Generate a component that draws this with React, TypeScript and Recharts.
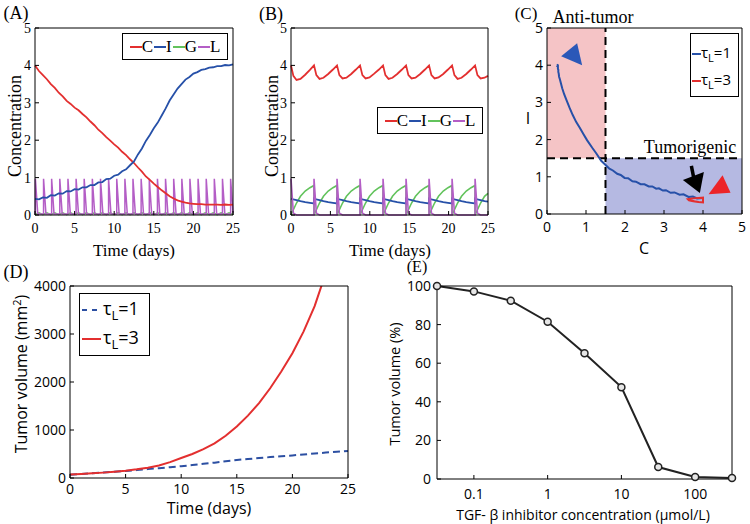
import React from 'react';
import { LineChart, Line, XAxis, YAxis, ReferenceArea, ReferenceLine, ReferenceDot } from 'recharts';

const SERIF = '"Liberation Serif", "Times New Roman", serif';
const SANS = '"Open Sans", "Noto Sans", sans-serif';

const RED = '#e32f2f';
const BLUE = '#2650a8';
const GREEN = '#62c35c';
const PURPLE = '#b45ec6';

// ---------- Panel A (tau_L = 1) ----------
const tA = [0,0.5,1,1.5,2,2.5,3,3.5,4,4.5,5,5.5,6,6.5,7,7.5,8,8.5,9,9.5,10,10.5,11,11.5,12,12.5,13,13.5,14,14.5,15,15.5,16,16.5,17,17.5,18,18.5,19,19.5,20,20.5,21,21.5,22,22.5,23,23.5,24,24.5,25];
const cA = [4.00,3.85,3.74,3.63,3.50,3.40,3.27,3.17,3.05,2.97,2.87,2.80,2.70,2.61,2.50,2.40,2.28,2.19,2.08,1.99,1.89,1.80,1.69,1.60,1.49,1.39,1.27,1.16,1.03,0.94,0.84,0.75,0.66,0.58,0.50,0.44,0.39,0.36,0.33,0.31,0.30,0.29,0.29,0.28,0.28,0.28,0.28,0.27,0.28,0.27,0.28];
const iA = [0.43,0.42,0.47,0.46,0.53,0.52,0.58,0.57,0.64,0.63,0.69,0.68,0.74,0.74,0.80,0.80,0.87,0.88,0.96,0.97,1.05,1.08,1.17,1.22,1.33,1.43,1.62,1.78,1.98,2.14,2.32,2.47,2.66,2.85,3.06,3.22,3.38,3.50,3.62,3.69,3.78,3.82,3.88,3.90,3.94,3.95,3.98,3.98,4.01,4.00,4.03];
const gA = [0.01,0.06,0.01,0.06,0.01,0.06,0.01,0.06,0.01,0.06,0.01,0.06,0.01,0.06,0.01,0.06,0.01,0.06,0.01,0.06,0.01,0.06,0.01,0.06,0.01,0.06,0.01,0.06,0.01,0.06,0.01,0.06,0.01,0.06,0.01,0.06,0.01,0.06,0.01,0.06,0.01,0.06,0.01,0.06,0.01,0.06,0.01,0.06,0.01,0.06,0.01];
const lAt = [0.05,0.05,0.35, 1.08,1.08,1.38, 2.1,2.1,2.4, 3.13,3.13,3.43, 4.16,4.16,4.46, 5.19,5.19,5.49, 6.21,6.21,6.51, 7.24,7.24,7.54, 8.27,8.27,8.57, 9.29,9.29,9.59, 10.32,10.32,10.62, 11.35,11.35,11.65, 12.37,12.37,12.67, 13.4,13.4,13.7, 14.43,14.43,14.73, 15.46,15.46,15.76, 16.48,16.48,16.78, 17.51,17.51,17.81, 18.54,18.54,18.84, 19.56,19.56,19.86, 20.59,20.59,20.89, 21.62,21.62,21.92, 22.64,22.64,22.94, 23.67,23.67,23.97, 24.7,24.7,25];
const lAv = [0.03,0.97,0.03, 0.03,0.97,0.03, 0.03,0.97,0.03, 0.03,0.97,0.03, 0.03,0.97,0.03, 0.03,0.97,0.03, 0.03,0.97,0.03, 0.03,0.97,0.03, 0.03,0.97,0.03, 0.03,0.97,0.03, 0.03,0.97,0.03, 0.03,0.97,0.03, 0.03,0.97,0.03, 0.03,0.97,0.03, 0.03,0.97,0.03, 0.03,0.97,0.03, 0.03,0.97,0.03, 0.03,0.97,0.03, 0.03,0.97,0.03, 0.03,0.97,0.03, 0.03,0.97,0.03, 0.03,0.97,0.03, 0.03,0.97,0.03, 0.03,0.97,0.03, 0.03,0.97,0.06];

// ---------- Panel B (tau_L = 3) ----------
const tB = [0,0.3,0.7,1.2,1.8,2.4,
  2.92,2.92,3.22,3.62,4.12,4.72,5.32,
  5.84,5.84,6.14,6.54,7.04,7.64,8.24,
  8.76,8.76,9.06,9.46,9.96,10.56,11.16,
  11.68,11.68,11.98,12.38,12.88,13.48,14.08,
  14.6,14.6,14.9,15.3,15.8,16.4,17.0,
  17.52,17.52,17.82,18.22,18.72,19.32,19.92,
  20.44,20.44,20.74,21.14,21.64,22.24,22.84,
  23.36,23.36,23.66,24.06,24.56,25];
const cB = [4.00,3.72,3.61,3.64,3.75,3.88,
  4.00,4.00,3.74,3.64,3.67,3.77,3.89,
  4.00,4.00,3.74,3.65,3.67,3.77,3.89,
  4.00,4.00,3.74,3.65,3.68,3.78,3.89,
  4.00,4.00,3.74,3.64,3.67,3.77,3.89,
  4.00,4.00,3.74,3.65,3.67,3.77,3.89,
  4.00,4.00,3.74,3.65,3.68,3.77,3.89,
  4.00,4.00,3.74,3.64,3.67,3.77,3.89,
  4.00,4.00,3.74,3.65,3.67,3.72];
const iB = [0.44,0.42,0.40,0.37,0.345,0.325,
  0.31,0.44,0.42,0.40,0.37,0.345,0.325,
  0.31,0.44,0.42,0.40,0.37,0.345,0.325,
  0.31,0.44,0.42,0.40,0.37,0.345,0.325,
  0.31,0.44,0.42,0.40,0.37,0.345,0.325,
  0.31,0.44,0.42,0.40,0.37,0.345,0.325,
  0.31,0.44,0.42,0.40,0.37,0.345,0.325,
  0.31,0.44,0.42,0.40,0.37,0.345,0.325,
  0.31,0.44,0.42,0.40,0.37,0.355];
const gB = [0.00,0.14,0.32,0.50,0.64,0.73,
  0.79,0.00,0.14,0.32,0.50,0.64,0.73,
  0.79,0.00,0.14,0.32,0.50,0.64,0.73,
  0.79,0.00,0.14,0.32,0.50,0.64,0.73,
  0.79,0.00,0.14,0.32,0.50,0.64,0.73,
  0.79,0.00,0.14,0.32,0.50,0.64,0.73,
  0.79,0.00,0.14,0.32,0.50,0.64,0.73,
  0.79,0.00,0.14,0.32,0.50,0.64,0.73,
  0.79,0.00,0.14,0.32,0.50,0.58];
const lB = [0.97,0.05,0,0,0,0,
  0,0.97,0.05,0,0,0,0,
  0,0.97,0.05,0,0,0,0,
  0,0.97,0.05,0,0,0,0,
  0,0.97,0.05,0,0,0,0,
  0,0.97,0.05,0,0,0,0,
  0,0.97,0.05,0,0,0,0,
  0,0.97,0.05,0,0,0,0,
  0,0.97,0.05,0,0,0];

// ---------- Panel D ----------
const tD = [0,1,2,3,4,5,6,7,8,9,10,11,12,13,14,15,16,17,18,19,20,21,22,23,24,25];
const vD1 = [70,85,100,115,130,145,165,185,205,225,245,270,295,320,350,375,395,415,435,455,470,490,510,530,548,565];
const tD3 = [0,1,2,3,4,5,6,7,8,9,10,11,12,13,14,15,16,17,18,19,20,21,22,23];
const vD3 = [75,85,97,112,130,152,180,215,260,330,416,500,600,720,880,1075,1300,1560,1870,2220,2600,3050,3580,4270];

// ---------- Panel E ----------
const eConc = [0.0316,0.1,0.316,1,3.16,10,31.6,100,316];
const eVol = [100,97.2,92.4,81.5,65.2,47.6,6.2,1.0,0.5];

const ticks025 = [0,5,10,15,20,25];
const ticks05 = [0,1,2,3,4,5];

const zip = (xs: number[], ys: number[]) => xs.map((x, i) => ({ x, y: ys[i] }));

function boxAxes(o: any) {
  const tickStyle = { fill: '#000', fontSize: o.fontSize, fontFamily: o.font };
  const ax = { stroke: '#000', strokeWidth: 1 };
  return [
    <XAxis key="xb" dataKey="x" type="number" scale={o.xScale || 'auto'} domain={o.xDomain} ticks={o.xTicks} interval={0}
      allowDataOverflow={!!o.xOverflow} tickSize={-4} tickMargin={o.xTickMargin} axisLine={ax} tickLine={ax}
      tick={tickStyle} height={o.xHeight} tickFormatter={o.xFmt} />,
    <XAxis key="xt" xAxisId="top" dataKey="x" orientation="top" type="number" scale={o.xScale || 'auto'} domain={o.xDomain} ticks={o.xTicks}
      interval={0} allowDataOverflow tickSize={-4} axisLine={ax} tickLine={ax} tick={false} height={1} />,
    <YAxis key="yl" type="number" domain={o.yDomain} ticks={o.yTicks} interval={0} allowDataOverflow={!!o.yOverflow}
      tickSize={-4} tickMargin={o.yTickMargin} axisLine={ax} tickLine={ax} tick={tickStyle} width={o.yWidth} />,
    <YAxis key="yr" yAxisId="right" orientation="right" type="number" domain={o.yDomain} ticks={o.yTicks} interval={0}
      allowDataOverflow tickSize={-4} axisLine={ax} tickLine={ax} tick={false} width={1} />,
    <Line key="ghost" xAxisId="top" yAxisId="right" data={zip(o.xDomain, o.yDomain)} dataKey="y" stroke="none"
      dot={false} activeDot={false} isAnimationActive={false} />,
  ];
}

const Txt = ({ x, y, size, font, rotate, children, style }: any) => (
  <div style={{ position: 'absolute', left: x, top: y, transform: `translate(-50%,-50%)${rotate ? ' rotate(-90deg)' : ''}`,
    whiteSpace: 'nowrap', fontFamily: font, fontSize: size, lineHeight: 1, color: '#000', ...style }}>{children}</div>
);

const Seg = ({ color, w = 12, dash }: any) => (
  <svg width={w} height={10} style={{ display: 'block' }}>
    <line x1={0} y1={5} x2={w} y2={5} stroke={color} strokeWidth={2} strokeDasharray={dash} />
  </svg>
);

const LegendCIGL = ({ left, top }: any) => (
  <div style={{ position: 'absolute', left, top, width: 104, height: 25, border: '1px solid #000', background: '#fff',
    display: 'flex', alignItems: 'center', justifyContent: 'center', fontFamily: SERIF, fontSize: 17 }}>
    <Seg color={RED} /><span style={{ marginRight: 1 }}>C</span>
    <Seg color={BLUE} /><span style={{ marginRight: 1 }}>I</span>
    <Seg color={GREEN} /><span style={{ marginRight: 1 }}>G</span>
    <Seg color={PURPLE} /><span>L</span>
  </div>
);

const BlueTri = (p: any) => (
  <polygon points={`${p.cx - 12},${p.cy + 1} ${p.cx + 4},${p.cy - 12} ${p.cx + 9},${p.cy + 10}`} fill="#2b58b8" />
);
const RedTri = (p: any) => (
  <polygon points={`${p.cx - 12},${p.cy + 7} ${p.cx + 10},${p.cy + 5.5} ${p.cx + 2},${p.cy - 12}`} fill="#ec2428" />
);
const Arrow = (p: any) => (
  <g>
    <line x1={p.cx - 1.5} y1={p.cy - 12} x2={p.cx + 1.5} y2={p.cy + 3} stroke="#000" strokeWidth={3.5} />
    <polygon points={`${p.cx - 10},${p.cy + 2} ${p.cx + 11},${p.cy - 6} ${p.cx + 7},${p.cy + 15}`} fill="#000" />
  </g>
);

export default function App() {
  return (
    <div style={{ position: 'absolute', left: 0, top: 0, width: 750, height: 524, background: '#fff', overflow: 'hidden' }}>
      {/* Panel A */}
      <div style={{ position: 'absolute', left: 0, top: 0 }}>
        <LineChart width={245} height={262} margin={{ top: 27, right: 11, bottom: 22, left: 10 }}>
          {boxAxes({ xDomain: [0, 25], xTicks: ticks025, yDomain: [0, 5], yTicks: ticks05, font: SERIF, fontSize: 14,
            xTickMargin: 12, yTickMargin: 8, xHeight: 25, yWidth: 25 })}
          <Line data={zip(tA, gA)} dataKey="y" stroke={GREEN} strokeWidth={1.5} dot={false} isAnimationActive={false} />
          <Line data={zip(lAt, lAv)} dataKey="y" stroke={PURPLE} strokeWidth={1.5} dot={false} isAnimationActive={false} />
          <Line data={zip(tA, cA)} dataKey="y" stroke={RED} strokeWidth={1.8} dot={false} isAnimationActive={false} />
          <Line data={zip(tA, iA)} dataKey="y" stroke={BLUE} strokeWidth={1.8} dot={false} isAnimationActive={false} />
        </LineChart>
      </div>
      {/* Panel B */}
      <div style={{ position: 'absolute', left: 245, top: 0 }}>
        <LineChart width={255} height={262} margin={{ top: 27, right: 11, bottom: 22, left: 21 }}>
          {boxAxes({ xDomain: [0, 25], xTicks: ticks025, yDomain: [0, 5], yTicks: ticks05, font: SERIF, fontSize: 14,
            xTickMargin: 12, yTickMargin: 8, xHeight: 25, yWidth: 25 })}
          <Line data={zip(tB, gB)} dataKey="y" stroke={GREEN} strokeWidth={1.6} dot={false} isAnimationActive={false} />
          <Line data={zip(tB, iB)} dataKey="y" stroke={BLUE} strokeWidth={1.8} dot={false} isAnimationActive={false} />
          <Line data={zip(tB, lB)} dataKey="y" stroke={PURPLE} strokeWidth={1.6} dot={false} isAnimationActive={false} />
          <Line data={zip(tB, cB)} dataKey="y" stroke={RED} strokeWidth={1.8} dot={false} isAnimationActive={false} />
        </LineChart>
      </div>
      {/* Panel C */}
      <div style={{ position: 'absolute', left: 500, top: 0 }}>
        <LineChart width={250} height={262} margin={{ top: 27, right: 7, bottom: 23, left: 22 }}>
          <ReferenceArea x1={0} x2={1.5} y1={1.5} y2={5} fill="#f5c4c6" fillOpacity={1} stroke="none" />
          <ReferenceArea x1={1.5} x2={5} y1={0} y2={1.5} fill="#b5b9e2" fillOpacity={1} stroke="none" />
          {boxAxes({ xDomain: [0, 5], xTicks: ticks05, yDomain: [0, 5], yTicks: ticks05, font: SANS, fontSize: 14,
            xTickMargin: 12, yTickMargin: 8, xHeight: 25, yWidth: 25 })}
          <ReferenceLine x={1.5} stroke="#000" strokeWidth={2} strokeDasharray="8 5" />
          <ReferenceLine y={1.5} stroke="#000" strokeWidth={2} strokeDasharray="8 5" />
          <Line data={zip(cA, iA)} dataKey="y" stroke={BLUE} strokeWidth={2} dot={false} isAnimationActive={false} />
          <Line data={zip(cB, iB)} dataKey="y" stroke={RED} strokeWidth={2} dot={false} isAnimationActive={false} />
          <ReferenceDot x={0.67} y={4.27} r={1} shape={BlueTri} />
          <ReferenceDot x={4.45} y={0.72} r={1} shape={RedTri} />
          <ReferenceDot x={3.74} y={0.97} r={1} shape={Arrow} />
        </LineChart>
      </div>
      {/* Panel D */}
      <div style={{ position: 'absolute', left: 0, top: 262 }}>
        <LineChart width={360} height={262} margin={{ top: 23, right: 11, bottom: 16, left: 25 }}>
          {boxAxes({ xDomain: [0, 25], xTicks: ticks025, yDomain: [0, 4000], yTicks: [0, 1000, 2000, 3000, 4000], font: SANS, fontSize: 14,
            xTickMargin: 10, yTickMargin: 8, xHeight: 30, yWidth: 45, yOverflow: true })}
          <Line data={zip(tD, vD1)} dataKey="y" stroke="#2c4fa2" strokeWidth={2} strokeDasharray="7 4" dot={false} isAnimationActive={false} />
          <Line data={zip(tD3, vD3)} dataKey="y" stroke={RED} strokeWidth={2} dot={false} isAnimationActive={false} />
        </LineChart>
      </div>
      {/* Panel E */}
      <div style={{ position: 'absolute', left: 380, top: 262 }}>
        <LineChart width={370} height={262} margin={{ top: 23, right: 17, bottom: 15, left: 22 }}>
          {boxAxes({ xDomain: [0.0316, 316], xTicks: [0.1, 1, 10, 100], xScale: 'log', yDomain: [0, 100], yTicks: [0, 20, 40, 60, 80, 100],
            font: SANS, fontSize: 14, xTickMargin: 14, yTickMargin: 10, xHeight: 30, yWidth: 35, xFmt: (v: number) => String(v) })}
          <Line data={zip(eConc, eVol)} dataKey="y" stroke="#222" strokeWidth={2}
            dot={{ r: 3.5, stroke: '#222', strokeWidth: 1.5, fill: '#e6e6e6' }} isAnimationActive={false} />
        </LineChart>
      </div>

      {/* Panel labels & axis titles */}
      <Txt x={16} y={13} size={18} font={SERIF}>(A)</Txt>
      <Txt x={271} y={14} size={18} font={SERIF}>(B)</Txt>
      <Txt x={526} y={13} size={17} font={SERIF}>(C)</Txt>
      <Txt x={16} y={272} size={18} font={SERIF}>(D)</Txt>
      <Txt x={417} y={267} size={16} font={SERIF}>(E)</Txt>

      <Txt x={15} y={126} size={18} font={SERIF} rotate>Concentration</Txt>
      <Txt x={272} y={126} size={18} font={SERIF} rotate>Concentration</Txt>
      <Txt x={134} y={250} size={17} font={SERIF}>Time (days)</Txt>
      <Txt x={390} y={250} size={17} font={SERIF}>Time (days)</Txt>

      <Txt x={593} y={17} size={18} font={SERIF}>Anti-tumor</Txt>
      <Txt x={690} y={147} size={18} font={SERIF}>Tumorigenic</Txt>
      <Txt x={528} y={118} size={16} font={SANS}>I</Txt>
      <Txt x={644} y={248} size={16} font={SANS}>C</Txt>

      <Txt x={20} y={374} size={16} font={SANS} rotate>Tumor volume (mm<sup style={{ fontSize: 11 }}>2</sup>)</Txt>
      <Txt x={209} y={508} size={16} font={SANS}>Time (days)</Txt>
      <Txt x={395} y={384} size={14.5} font={SANS} rotate>Tumor volume (%)</Txt>
      <Txt x={583} y={515} size={14} font={SANS}>TGF- β inhibitor concentration (μmol/L)</Txt>

      {/* Legends */}
      <LegendCIGL left={122} top={33} />
      <LegendCIGL left={377} top={107} />

      <div style={{ position: 'absolute', left: 690, top: 33, width: 47, height: 62, border: '1px solid #000', background: '#fff',
        fontFamily: SANS, fontSize: 15, lineHeight: 1 }}>
        <div style={{ position: 'absolute', left: 1, top: 11, display: 'flex', alignItems: 'center' }}>
          <Seg color={BLUE} w={9} /><span>τ<sub style={{ fontSize: 11 }}>L</sub>=1</span>
        </div>
        <div style={{ position: 'absolute', left: 1, top: 38, display: 'flex', alignItems: 'center' }}>
          <Seg color={RED} w={9} /><span>τ<sub style={{ fontSize: 11 }}>L</sub>=3</span>
        </div>
      </div>

      <div style={{ position: 'absolute', left: 79, top: 293, width: 69, height: 61, border: '1px solid #000', background: '#fff',
        fontFamily: SANS, fontSize: 18, lineHeight: 1 }}>
        <div style={{ position: 'absolute', left: 2, top: 5, display: 'flex', alignItems: 'center' }}>
          <Seg color="#2c4fa2" w={19} dash="5 5" /><span style={{ marginLeft: 2 }}>τ<sub style={{ fontSize: 13 }}>L</sub>=1</span>
        </div>
        <div style={{ position: 'absolute', left: 2, top: 34, display: 'flex', alignItems: 'center' }}>
          <Seg color={RED} w={19} /><span style={{ marginLeft: 2 }}>τ<sub style={{ fontSize: 13 }}>L</sub>=3</span>
        </div>
      </div>
    </div>
  );
}
